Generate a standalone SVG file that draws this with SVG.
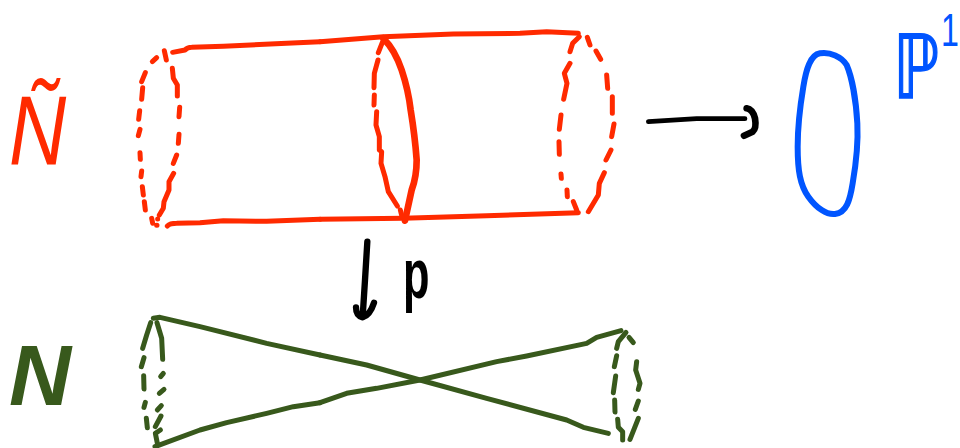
<svg xmlns="http://www.w3.org/2000/svg" width="960" height="448" viewBox="0 0 960 448">
<style>
.s{fill:none;stroke-linecap:round;stroke-linejoin:round}
.r{stroke:#ff2a00;stroke-width:15}
.g{stroke:#38591c;stroke-width:15}
.k{stroke:#000;stroke-width:14}
.b{stroke:#0055ff;stroke-width:18}
.t{font-family:"Liberation Sans",sans-serif}
</style>
<rect width="960" height="448" fill="#fff"/>
<g id="cylinder">
<g class="s r" transform="translate(0,20) scale(.33333)">
<path d="M518 97L555 90Q562 82 575 82Q760 75 960 65"/>
<path d="M502 618Q510 610 530 610L600 608L670 602L800 604L960 598"/>
<path d="M493 92L499 120M457 125L470 113M425 185L436 158M425 238L428 203M416 298L419 272M415 347L420 328M420 398L421 418M423 470L425 453M427 500L430 525M433 545L436 570M455 595L458 610M470 616L471 616"/>
<path d="M517 145L520 175L532 195L532 228M539 262L537 290M537 343L535 370M530 405L520 430M521 460L507 485L507 510L492 545L490 565L478 585M473 597L473 597"/>
</g>
<g class="s r" transform="translate(320,20) scale(.33333)">
<path d="M0 65L190 50L400 42L600 40L680 35L775 40"/>
<path d="M0 598L250 595L500 587L775 578"/>
<path style="stroke-width:20" d="M190 55Q225 90 245 150Q265 210 272 270Q285 350 290 420Q290 470 275 510L255 602"/>
<path d="M188 65L175 98M174 120L163 160L162 203M163 225L162 255M170 275L168 315L178 350L178 390L185 395L183 430L195 470L205 515L232 558M241 570L246 590"/>
<path d="M778 50L758 70L750 95M750 130L733 160L741 190L731 238M723 285L718 328M717 365L718 403M723 462L724 475M741 510L742 530M760 545L770 570"/>
<path d="M802 52L810 75M828 93L842 118M860 165L863 205M877 230L877 280M882 312L875 350M873 390L858 420M853 458L838 490L835 525L805 575"/>
</g>
</g>
<g id="label-n-tilde"><text class="t" font-size="88" font-style="italic" fill="#ff2a00" transform="translate(9,165) scale(.9,1.12)">Ñ</text></g>
<g id="connectors">
<g class="s k" transform="translate(630,20) scale(.33333)">
<path d="M55 305L200 296L345 296"/>
<path style="stroke-width:20" d="M350 265Q368 268 375 295Q380 325 368 335L342 347"/>
</g>
<g class="s k" transform="translate(320,230) scale(.33333)">
<path style="stroke-width:19" d="M142 35L135 150L128 260"/>
<path style="stroke-width:19" d="M108 232Q108 258 128 262Q150 255 162 218"/>
</g>
</g>
<g id="label-p"><text class="t" font-size="70" font-weight="bold" fill="#000" transform="translate(403,298) scale(.62,1)">p</text></g>
<g id="p1-circle">
<path class="s b" transform="translate(630,20) scale(.33333)" d="M570 100C540 105 528 150 520 200C510 260 503 310 503 380C503 450 510 495 535 530C560 565 590 585 615 582C650 578 660 540 668 490C680 420 685 370 682 310C678 240 665 170 650 135C635 110 600 95 570 100Z"/>
</g>
<g id="label-p1">
<text font-size="88" font-family="'DejaVu Sans',sans-serif" fill="#0055ff" stroke="#0055ff" stroke-width="1.5" transform="translate(893,98) scale(.75,1)">ℙ</text>
<text class="t" font-size="46" fill="#0055ff" transform="translate(941,46) scale(.7,1)">1</text>
</g>
<g id="cone">
<g class="s g" transform="translate(0,230) scale(.33333)">
<path d="M460 265L480 262L600 290L800 340L960 375"/>
<path d="M465 650L600 600L680 578L800 550L880 530L960 518"/>
<path d="M452 278L440 315L428 355M432 383L424 410M431 437L432 477M436 517L432 532M439 565L442 593"/>
<path d="M471 278L485 325L488 388M490 430L482 440M492 478L478 490M484 527L472 540M483 558L466 590M481 600L466 610L472 640"/>
</g>
<g class="s g" transform="translate(320,230) scale(.33333)">
<path d="M0 375L140 405L300 450L500 505L740 570L790 592L865 610"/>
<path d="M0 518L80 490L170 475L300 450L530 395L620 378L800 340L830 322L903 302"/>
<path d="M918 307L895 335L890 355M890 377L883 410M887 438L880 488M884 510L885 546M893 568L895 592L908 605L908 630M930 628L955 565M955 513L946 538M950 395L947 420L960 460L955 478M927 322L940 338"/>
</g>
</g>
<g id="label-n"><text class="t" x="9" y="405" font-size="86" font-style="italic" font-weight="bold" fill="#38591c">N</text></g>
</svg>
